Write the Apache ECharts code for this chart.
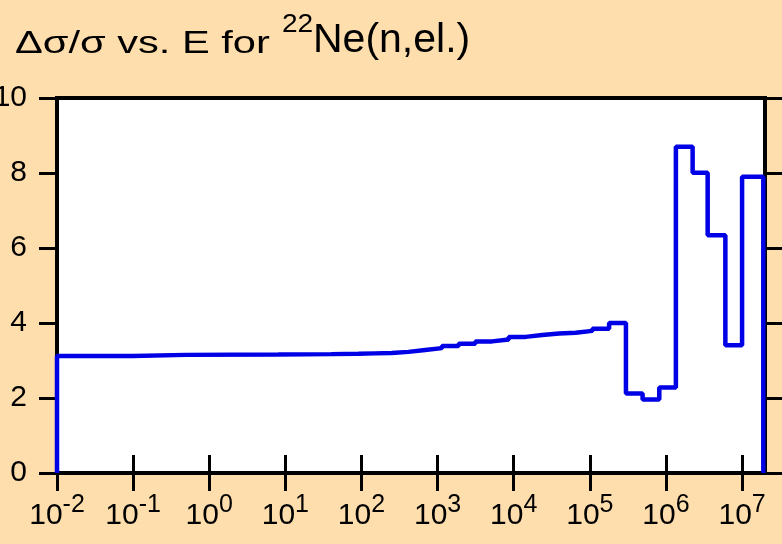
<!DOCTYPE html>
<html>
<head>
<meta charset="utf-8">
<script src="https://cdn.jsdelivr.net/npm/echarts@6/dist/echarts.min.js"></script>
<style>
html,body{margin:0;padding:0;background:#FFDEAD;}
#chart{width:782px;height:544px;}
</style>
</head>
<body>
<div id="chart"></div>
<script>
// Group boundaries (eV) and relative uncertainty values per group
var energyEdges = [0.01, 0.1, 0.5, 8, 40, 91, 151, 249, 414, 687, 1140, 1890, 3130, 5200, 8600, 14300, 23700, 39400, 65000, 108000, 179000, 298000, 493000, 817000, 1350000, 2240000, 3530000, 6030000, 10000000, 19000000];
var groupValues = [3.12, 3.15, 3.16, 3.17, 3.18, 3.19, 3.20, 3.23, 3.28, 3.33, 3.39, 3.45, 3.51, 3.56, 3.63, 3.68, 3.72, 3.74, 3.79, 3.85, 4.00, 2.12, 1.96, 2.28, 8.70, 8.01, 6.34, 3.41, 7.90];
var xTickValues = [0.01, 0.1, 1, 10, 100, 1000, 10000, 100000, 1000000, 10000000];
var xTickExponents = ['-2', '-1', '0', '1', '2', '3', '4', '5', '6', '7'];
var yTickValues = [0, 2, 4, 6, 8, 10];
var titleParts = ['Δσ/σ vs. E for', '22', 'Ne(n,el.)'];
var xMin = 0.01, xMax = 20000000;
var yMin = 0, yMax = 10;

var stepData = [[energyEdges[0], 0]];
for (var i = 0; i < groupValues.length; i++) {
  stepData.push([energyEdges[i], groupValues[i]]);
}
stepData.push([energyEdges[energyEdges.length - 1], groupValues[groupValues.length - 1]]);
stepData.push([energyEdges[energyEdges.length - 1], 0]);

var FONT = '"Liberation Sans", Arial, sans-serif';
var chart = echarts.init(document.getElementById('chart'), null, {renderer: 'canvas'});

function expLabel(v) {
  for (var k = 0; k < xTickValues.length; k++) {
    if (Math.abs(Math.log10(v) - Math.log10(xTickValues[k])) < 1e-6) {
      return '{b|10}{e|' + xTickExponents[k] + '}';
    }
  }
  return '';
}

var tickStyle = {lineStyle: {color: '#000', width: 3}, length: 18, inside: false};
var axLine = {show: true, lineStyle: {color: '#000', width: 4}};

chart.setOption({
  backgroundColor: '#FFDEAD',
  animation: false,
  graphic: [
    {type: 'text', x: 15, y: 44, scaleX: 1.3, z: 10,
     style: {text: titleParts[0], x: 0, y: 0, align: 'left', verticalAlign: 'middle', font: '32px "Liberation Sans", Arial, sans-serif', fill: '#000'}},
    {type: 'text', x: 282, y: 24.5, scaleX: 1.08, z: 10,
     style: {text: titleParts[1], x: 0, y: 0, align: 'left', verticalAlign: 'middle', font: '26px "Liberation Sans", Arial, sans-serif', fill: '#000'}},
    {type: 'text', x: 313, y: 41, z: 10,
     style: {text: titleParts[2], x: 0, y: 0, align: 'left', verticalAlign: 'middle', font: '41px "Liberation Sans", Arial, sans-serif', fill: '#000'}}
  ],
  grid: {left: 57, right: 17, top: 98, bottom: 71, show: true, backgroundColor: '#fff', borderColor: '#000', borderWidth: 4, containLabel: false, outerBoundsMode: 'none'},
  xAxis: [{
    type: 'log', logBase: 10, min: xMin, max: xMax, position: 'bottom',
    axisLine: axLine,
    axisTick: Object.assign({customValues: xTickValues}, tickStyle),
    splitLine: {show: false},
    axisLabel: {
      customValues: xTickValues,
      margin: 20,
      formatter: expLabel,
      rich: {
        b: {fontFamily: FONT, fontSize: 30, color: '#000', lineHeight: 46},
        e: {fontFamily: FONT, fontSize: 25, color: '#000', verticalAlign: 'top', lineHeight: 26}
      }
    }
  }, {
    type: 'log', logBase: 10, min: xMin, max: xMax, position: 'top',
    axisLine: axLine,
    axisTick: Object.assign({customValues: xTickValues}, tickStyle),
    splitLine: {show: false},
    axisLabel: {show: false}
  }],
  yAxis: [{
    type: 'value', min: yMin, max: yMax, interval: 2, position: 'left',
    axisLine: axLine,
    axisTick: tickStyle,
    splitLine: {show: false},
    axisLabel: {
      margin: 30, fontFamily: FONT, fontSize: 30, color: '#000', padding: [5, 0, 0, 0],
      customValues: yTickValues
    }
  }, {
    type: 'value', min: yMin, max: yMax, interval: 2, position: 'right',
    axisLine: axLine,
    axisTick: tickStyle,
    splitLine: {show: false},
    axisLabel: {show: false}
  }],
  series: [{
    type: 'line',
    step: 'end',
    data: stepData,
    showSymbol: false,
    symbol: 'none',
    clip: false,
    lineStyle: {color: '#0000e6', width: 4.5},
    z: 5
  }]
});
</script>
</body>
</html>
